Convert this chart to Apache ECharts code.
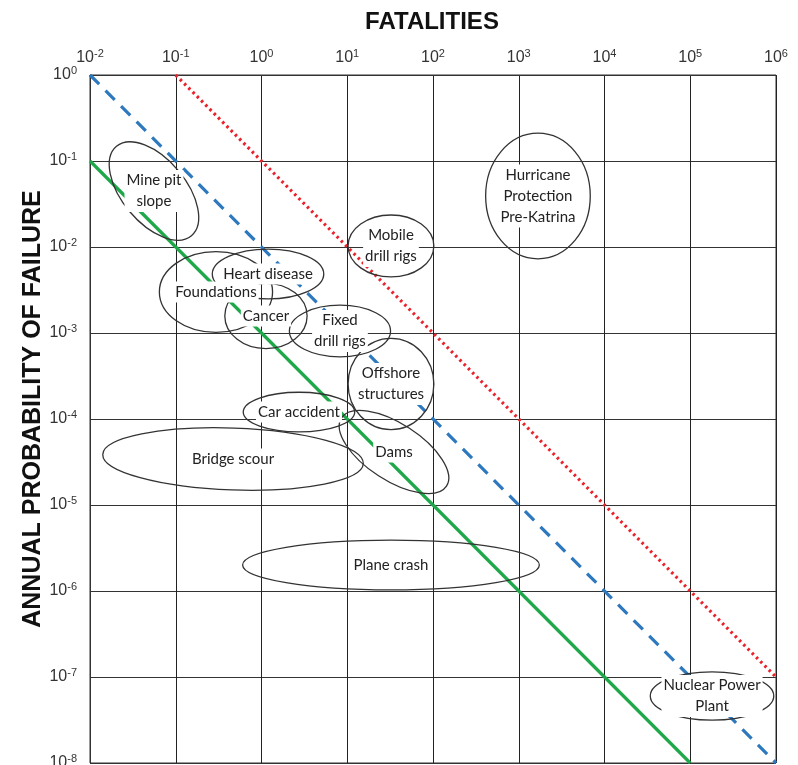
<!DOCTYPE html>
<html>
<head>
<meta charset="utf-8">
<script src="https://cdn.jsdelivr.net/npm/echarts@6/dist/echarts.min.js"></script>
<style>
html,body{margin:0;padding:0;background:#fff;}
#chart{width:798px;height:765px;}
</style>
</head>
<body>
<div id="chart"></div>
<script>
// ---- data ----
const xTickExps = [-2, -1, 0, 1, 2, 3, 4, 5, 6];
const yTickExps = [0, -1, -2, -3, -4, -5, -6, -7, -8];
const xTitle = 'FATALITIES';
const yTitle = 'ANNUAL PROBABILITY OF FAILURE';

// criteria lines: [fatalities, annual probability]
const greenLine = [[0.01, 1e-1], [1e5, 1e-8]];
const blueLine  = [[0.01, 1e0],  [1e6, 1e-8]];
const redLine   = [[0.1, 1e0],   [1e6, 1e-7]];

// ellipses (log10 space)
const ellipseLabels = ['Mine pit\nslope', 'Mobile\ndrill rigs', 'Heart disease', 'Foundations', 'Cancer',
  'Fixed\ndrill rigs', 'Offshore\nstructures', 'Car accident', 'Dams', 'Bridge scour', 'Plane crash',
  'Hurricane\nProtection\nPre-Katrina', 'Nuclear Power\nPlant'];
const ellipseLogFatal = [-1.254, 1.510, 0.076, -0.531, 0.052, 0.915, 1.510, 0.437, 1.545, -0.332, 1.510, 3.224, 5.254];
const ellipseLogProb  = [-1.349, -1.988, -2.314, -2.523, -2.802, -2.977, -3.593, -3.919, -4.384, -4.465, -5.698, -1.407, -7.221];
const ellipseHalfWidth  = [0.68, 0.50, 0.65, 0.66, 0.48, 0.59, 0.50, 0.65, 0.73, 1.52, 1.73, 0.61, 0.72];
const ellipseHalfHeight = [0.37, 0.36, 0.29, 0.47, 0.38, 0.30, 0.53, 0.23, 0.33, 0.36, 0.29, 0.73, 0.28];
const ellipseTilt       = [50, 0, 0, 0, 0, 0, 0, 0, 33, 2, 0, 0, 0];

// ---- build ----
function supLabel(v) {
  const e = Math.round(Math.log10(v));
  return '{b|10}{s|' + e + '}';
}
const richTick = {
  b: {fontSize: 16, color: '#333', fontFamily: 'Liberation Sans', lineHeight: 19},
  s: {fontSize: 11, color: '#333', fontFamily: 'Liberation Sans', verticalAlign: 'top', lineHeight: 11}
};

const ellipseData = ellipseLabels.map((l, i) => [
  Math.pow(10, ellipseLogFatal[i]), Math.pow(10, ellipseLogProb[i]),
  ellipseHalfWidth[i], ellipseHalfHeight[i], ellipseTilt[i], i
]);

function geom(api) {
  const fx = Math.log10(api.value(0)), fy = Math.log10(api.value(1));
  const c = api.coord([api.value(0), api.value(1)]);
  const px = api.coord([Math.pow(10, fx + api.value(2)), api.value(1)]);
  const py = api.coord([api.value(0), Math.pow(10, fy + api.value(3))]);
  return {c: c, rx: Math.abs(px[0] - c[0]), ry: Math.abs(c[1] - py[1])};
}

const chart = echarts.init(document.getElementById('chart'), null, {renderer: 'canvas'});
chart.setOption({
  backgroundColor: '#fff',
  animation: false,
  grid: {left: 90, top: 75, right: 22, bottom: 2, show: true, borderColor: '#333', borderWidth: 1,
         containLabel: false, outerBoundsMode: 'none'},
  xAxis: {
    type: 'log', logBase: 10, min: 0.01, max: 1e6, splitNumber: xTickExps.length - 1,
    position: 'top',
    axisLine: {show: true, lineStyle: {color: '#333', width: 1}},
    axisTick: {show: false},
    minorTick: {show: false},
    splitLine: {show: true, lineStyle: {color: '#222', width: 1}},
    axisLabel: {margin: 8, formatter: supLabel, rich: richTick, showMinLabel: true, showMaxLabel: true}
  },
  yAxis: {
    type: 'log', logBase: 10, min: 1e-8, max: 1, splitNumber: yTickExps.length - 1,
    axisLine: {show: true, lineStyle: {color: '#333', width: 1}},
    axisTick: {show: false},
    splitLine: {show: true, lineStyle: {color: '#333', width: 1}},
    axisLabel: {margin: 13, formatter: supLabel, rich: richTick, showMinLabel: true, showMaxLabel: true}
  },
  graphic: [
    {type: 'text', x: 432, y: 22, style: {text: xTitle, font: 'bold 24px "Liberation Sans"', fill: '#111', align: 'center', verticalAlign: 'middle'}},
    {type: 'text', x: 33, y: 409, rotation: Math.PI / 2, style: {text: yTitle, font: 'bold 25px "Liberation Sans"', fill: '#111', align: 'center', verticalAlign: 'middle'}}
  ],
  series: [
    {type: 'line', data: greenLine, symbol: 'none', z: 2, lineStyle: {color: '#1fa84a', width: 3.2}},
    {type: 'line', data: blueLine, symbol: 'none', z: 2, lineStyle: {color: '#2e78bd', width: 3.2, type: [13, 9]}},
    {type: 'line', data: redLine, symbol: 'none', z: 2, lineStyle: {color: '#e8232c', width: 3.2, type: [2.5, 3.5]}},
    {
      type: 'custom', coordinateSystem: 'cartesian2d', z: 3, data: ellipseData,
      encode: {x: 0, y: 1},
      renderItem: function (params, api) {
        const g = geom(api);
        return {
          type: 'ellipse', x: g.c[0], y: g.c[1], rotation: -api.value(4) * Math.PI / 180,
          shape: {cx: 0, cy: 0, rx: g.rx, ry: g.ry},
          style: {fill: 'none', stroke: '#333', lineWidth: 1.3}
        };
      }
    },
    {
      type: 'custom', coordinateSystem: 'cartesian2d', z: 5, data: ellipseData,
      encode: {x: 0, y: 1},
      renderItem: function (params, api) {
        const g = geom(api);
        return {
          type: 'text', x: g.c[0], y: g.c[1],
          style: {
            text: ellipseLabels[api.value(5)], font: '15px Lato', fill: '#222',
            align: 'center', verticalAlign: 'middle', lineHeight: 21,
            backgroundColor: '#fff', padding: [0, 2]
          }
        };
      }
    }
  ]
});
</script>
</body>
</html>
